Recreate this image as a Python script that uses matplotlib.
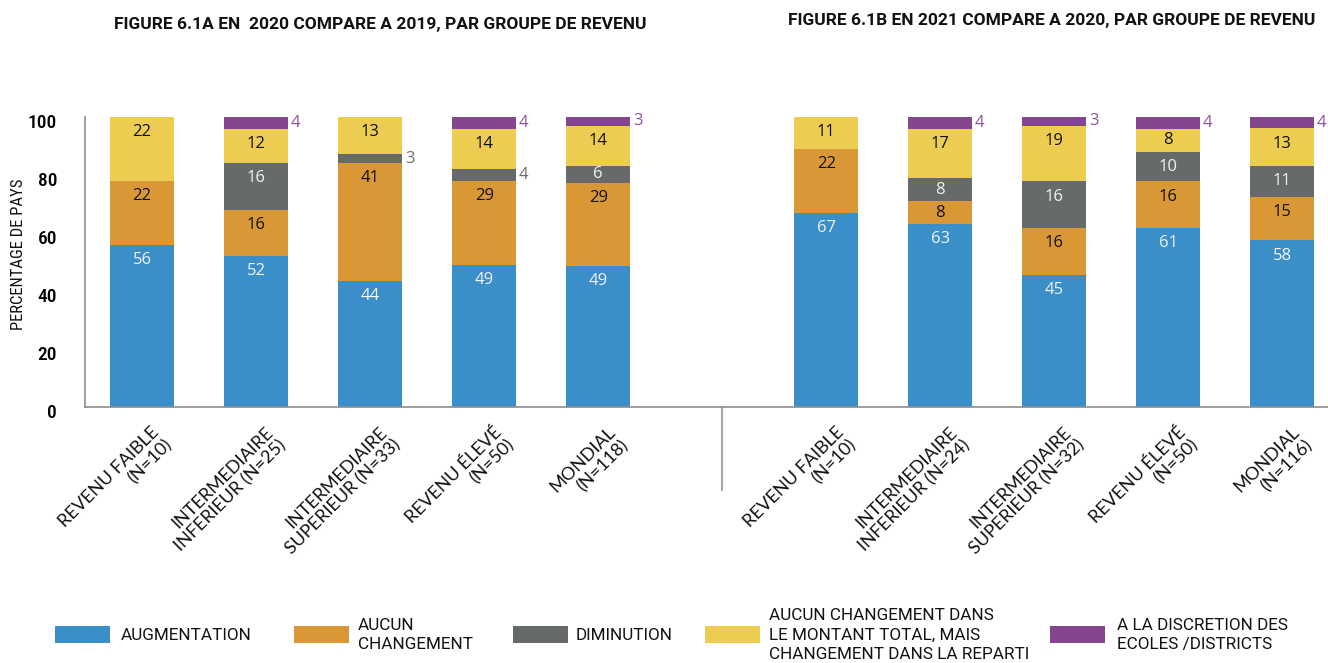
import numpy as np
import matplotlib
matplotlib.use("Agg")
import matplotlib.pyplot as plt
import matplotlib.transforms as mtrans
from matplotlib import font_manager as fm
from matplotlib.patches import Rectangle
from matplotlib.lines import Line2D

# ---------------- data ----------------
categories_a = ["REVENU FAIBLE\n(N=10)", "INTERMEDIAIRE\nINFERIEUR (N=25)",
                "INTERMEDIAIRE\nSUPERIEUR (N=33)", "REVENU ÉLEVÉ\n(N=50)", "MONDIAL\n(N=118)"]
categories_b = ["REVENU FAIBLE\n(N=10)", "INTERMEDIAIRE\nINFERIEUR (N=24)",
                "INTERMEDIAIRE\nSUPERIEUR (N=32)", "REVENU ÉLEVÉ\n(N=50)", "MONDIAL\n(N=116)"]

augmentation_a = [56, 52, 44, 49, 49]
aucun_a = [22, 16, 41, 29, 29]
diminution_a = [0, 16, 3, 4, 6]
repartition_a = [22, 12, 13, 14, 14]
discretion_a = [0, 4, 0, 4, 3]

augmentation_b = [67, 63, 45, 61, 58]
aucun_b = [22, 8, 16, 16, 15]
diminution_b = [0, 8, 16, 10, 11]
repartition_b = [11, 17, 19, 8, 13]
discretion_b = [0, 4, 3, 4, 4]

series_names = ["AUGMENTATION", "AUCUN\nCHANGEMENT", "DIMINUTION",
                "AUCUN CHANGEMENT DANS\nLE MONTANT TOTAL, MAIS\nCHANGEMENT DANS LA REPARTI",
                "A LA DISCRETION DES\nECOLES /DISTRICTS"]
title_a = "FIGURE 6.1A EN  2020 COMPARE A 2019, PAR GROUPE DE REVENU"
title_b = "FIGURE 6.1B EN 2021 COMPARE A 2020, PAR GROUPE DE REVENU"
y_ticks = [0, 20, 40, 60, 80, 100]
y_label = "PERCENTAGE DE PAYS"

colors = ["#3A8FC8", "#DA9736", "#676A6B", "#ECCD52", "#84478D"]
label_colors = ["#F2F2F2", "#111111", "#F2F2F2", "#111111", "#8E52A0"]

# ---------------- fonts ----------------
avail = {f.name for f in fm.fontManager.ttflist}
def pick(cands):
    for c in cands:
        if c in avail:
            return c
    return "DejaVu Sans"
COND = pick(["Roboto Condensed", "Liberation Sans Narrow", "Roboto"])
REG = pick(["Roboto", "DejaVu Sans"])
HUM = pick(["Lato", "Open Sans", "DejaVu Sans"])
NUM = pick(["Open Sans", "Lato", "DejaVu Sans"])

W, H = 1328, 663
fig = plt.figure(figsize=(W / 100, H / 100), dpi=100)
ax_left, ax_right, ax_bottom_px, ax_top_px = 85, 1328, 407, 117
ax = fig.add_axes([ax_left / W, 1 - ax_bottom_px / H, (ax_right - ax_left) / W,
                   (ax_bottom_px - ax_top_px) / H])

pos_a = np.arange(5)
pos_b = np.arange(5) + 6
positions = np.concatenate([pos_a, pos_b])
data = [np.array(a + b, dtype=float) for a, b in [(augmentation_a, augmentation_b), (aucun_a, aucun_b),
                                     (diminution_a, diminution_b), (repartition_a, repartition_b),
                                     (discretion_a, discretion_b)]]
totals = np.sum(data, axis=0)
width = 0.56
bottom = np.zeros(len(positions))
for si, raw in enumerate(data):
    vals = raw / totals * 100.0  # 100% stacked
    ax.bar(positions, vals, width, bottom=bottom, color=colors[si], linewidth=0, zorder=2)
    for i, (x, v, r) in enumerate(zip(positions, vals, raw)):
        if r <= 0:
            continue
        b = bottom[i]
        top = b + v
        txt = f"{int(r)}"
        if si == 4:
            ax.annotate(txt, (x + width / 2, b + v / 2), xytext=(2, 0), textcoords="offset points",
                        ha="left", va="center", color="#8E52A0", fontsize=12, family=NUM)
        elif r <= 4:
            ax.annotate(txt, (x + width / 2, b + v / 2), xytext=(2, 0), textcoords="offset points",
                        ha="left", va="center", color="#6E6E6E", fontsize=12, family=NUM)
        else:
            yl = max(b + v / 2, top - 5.2)
            ax.text(x, yl, txt, ha="center", va="center", color=label_colors[si],
                    fontsize=12, family=NUM)
    bottom = bottom + vals

ax.set_xlim(-0.5, 10.4)
ax.set_ylim(0, 100)
ax.set_yticks(y_ticks)
ax.tick_params(axis="y", length=0, pad=20, labelsize=14)
for lab in ax.get_yticklabels():
    lab.set_fontfamily(COND)
    lab.set_fontweight("medium")
    lab.set_transform(lab.get_transform() + mtrans.ScaledTranslation(0, -4 / 100, fig.dpi_scale_trans))
ax.set_xticks([])
for s in ["top", "right"]:
    ax.spines[s].set_visible(False)
for s in ["left", "bottom"]:
    ax.spines[s].set_color("#8C8C8C")
    ax.spines[s].set_linewidth(1.2)

# x category labels
offs = mtrans.ScaledTranslation(9 / 100, -17 / 100, fig.dpi_scale_trans)
for x, lab in zip(positions, categories_a + categories_b):
    ax.text(x, 0, lab, transform=ax.get_xaxis_transform() + offs, rotation=45,
            rotation_mode="anchor", ha="right", va="top", multialignment="right",
            fontsize=13, family=HUM, color="#111111", linespacing=1.15)

# separator
sep = Line2D([5.09, 5.09], [0, -83 / 290], transform=ax.get_xaxis_transform(),
             color="#AAAAAA", lw=1.5, clip_on=False)
ax.add_line(sep)

# y label
fig.text(19 / W, 1 - 254 / H, y_label, rotation=90, ha="center", va="center",
         fontsize=12, family=COND, color="#111111")

# titles
fig.text(114 / W, 1 - 24 / H, title_a, ha="left", va="center", fontsize=12.5,
         fontweight="bold", family=REG, color="#111111")
fig.text(788 / W, 1 - 21 / H, title_b, ha="left", va="center", fontsize=12.5,
         fontweight="bold", family=REG, color="#111111")

# legend
leg_patch_x = [55, 294, 513, 705, 1050]
leg_text_x = [121, 358, 576, 769, 1117]
for px, tx, c, name in zip(leg_patch_x, leg_text_x, colors, series_names):
    fig.add_artist(Rectangle((px / W, 1 - 643 / H), 55 / W, 17 / H, transform=fig.transFigure,
                             color=c, lw=0))
    fig.text(tx / W, 1 - 635 / H, name, ha="left", va="center", fontsize=12.3,
             family=REG, color="#111111", linespacing=1.35)

fig.savefig("out.png", dpi=100)
